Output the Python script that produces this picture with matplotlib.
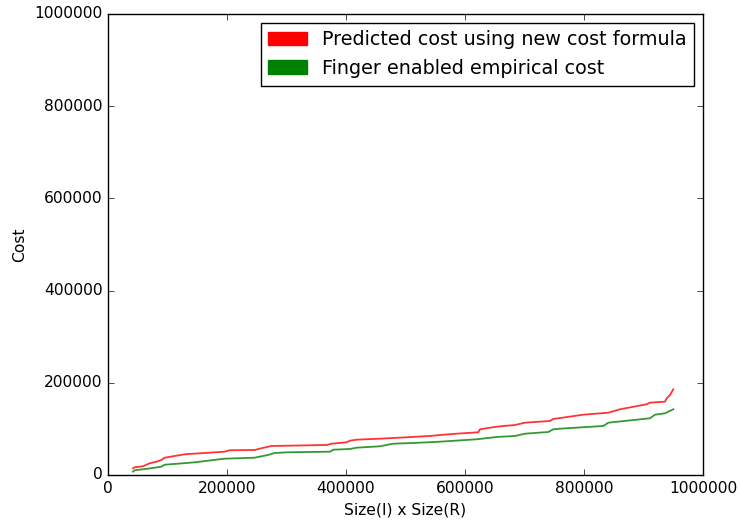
import matplotlib
matplotlib.use("Agg")
import matplotlib.pyplot as plt
import matplotlib.patches as mpatches

plt.style.use("classic")

# Predicted cost (red)
pred_x = [42017, 44874, 58824, 70084, 84034, 89580, 95294, 112101, 128908, 162521,
          196134, 204538, 246555, 257647, 274454, 302521, 367563, 375966, 401176, 406723,
          417983, 457143, 502017, 541176, 557983, 586050, 622353, 625210, 653277, 684034,
          700840, 742857, 748403, 798824, 840840, 860504, 905378, 910924, 936134, 938992,
          944538, 950084]
pred_y = [14534, 16703, 18872, 25380, 29718, 32538, 37527, 41215, 44902, 47722,
          50542, 53579, 54230, 57918, 62907, 63557, 65076, 67896, 70933, 74403,
          76573, 78742, 81779, 84599, 86768, 89588, 92625, 99132, 104772, 108460,
          113449, 117137, 121475, 130803, 135141, 142516, 153362, 156833, 159002, 166377,
          173536, 185900]

# Empirical cost (green)
emp_x = [42017, 44874, 67227, 89580, 95294, 117647, 145714, 196134, 246555, 268908,
         280168, 302521, 373109, 378655, 406723, 417983, 457143, 479496, 513109, 557983,
         619664, 653277, 684034, 700840, 740000, 748403, 759664, 832437, 840840, 910924,
         919328, 936134, 950084]
emp_y = [7158, 10195, 13666, 18004, 22343, 24512, 27549, 35358, 37527, 43384,
         47722, 49241, 50542, 54881, 56399, 59219, 62256, 67896, 69414, 72234,
         77440, 82430, 84599, 89588, 93275, 99132, 100434, 106291, 113449, 122994,
         130803, 133839, 142516]

legend_labels = ["Predicted cost using new cost formula", "Finger enabled empirical cost"]

fig = plt.figure(figsize=(7.40, 5.23), dpi=100, facecolor="white")
ax = fig.add_axes([0.1459, 0.0918, 0.8041, 0.8815])

ax.plot(pred_x, pred_y, color="red", lw=1.3, alpha=0.8)
ax.plot(emp_x, emp_y, color="green", lw=1.3, alpha=0.8)

ax.set_xlim(0, 1000000)
ax.set_ylim(0, 1000000)
ax.set_xticks([0, 200000, 400000, 600000, 800000, 1000000])
ax.set_yticks([0, 200000, 400000, 600000, 800000, 1000000])
ax.ticklabel_format(style="plain", useOffset=False)
ax.tick_params(labelsize=11.2)

ax.set_xlabel("Size(I) x Size(R)", fontsize=11.2)
ax.set_ylabel("Cost", fontsize=11.2)

handles = [mpatches.Patch(color="red", label=legend_labels[0]),
           mpatches.Patch(color="green", label=legend_labels[1])]
ax.legend(handles=handles, loc="upper right", fontsize=13.8, borderaxespad=0.45)

fig.savefig("out.png", dpi=100, facecolor="white")
